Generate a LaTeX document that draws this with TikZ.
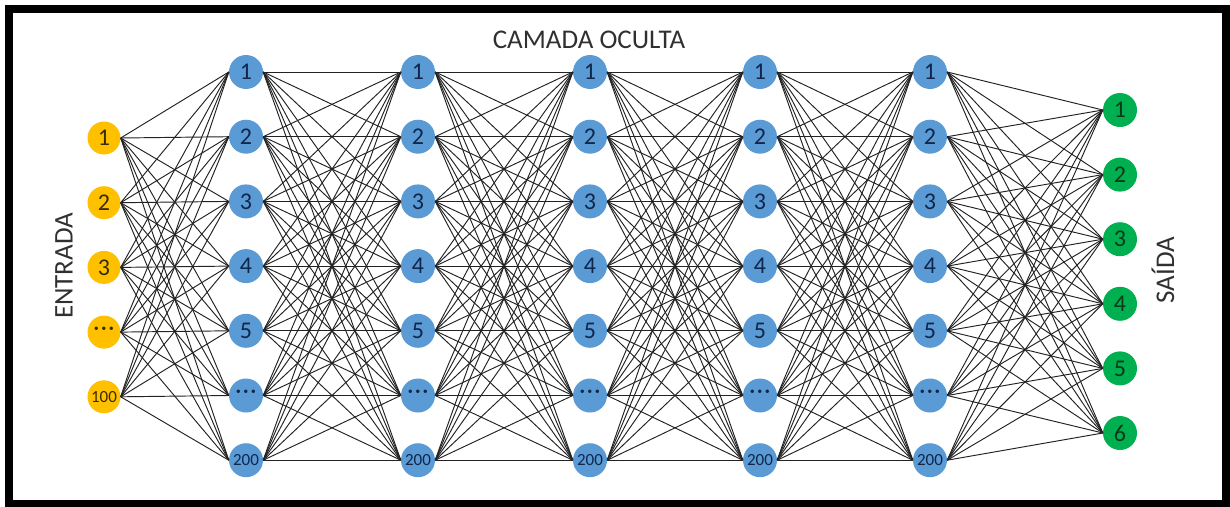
\documentclass[tikz,border=0pt]{standalone}
\usepackage{fontspec}
\setmainfont{Carlito}
\definecolor{inyellow}{HTML}{FFC000}
\definecolor{hidblue}{HTML}{5B9BD5}
\definecolor{outgreen}{HTML}{00B050}
\definecolor{intext}{HTML}{3A2C00}
\definecolor{hidtext}{HTML}{10264A}
\definecolor{outtext}{HTML}{0B3A18}
\definecolor{lblcol}{HTML}{303030}
\definecolor{edgecol}{HTML}{222222}
\newcommand\smalltxt[1]{{\fontsize{17}{17}\selectfont #1}}
\newcommand\neurdots{{\fontsize{24}{24}\selectfont\raisebox{0.08em}{·\kern0.06em·\kern0.06em·}}}
\begin{document}
\begin{tikzpicture}[x=1pt,y=-1pt,
  neuron/.style={circle, minimum size=34pt, inner sep=0pt, font=\fontsize{24}{24}\selectfont},
  inp/.style={neuron, fill=inyellow, text=intext, minimum size=33pt},
  hid/.style={neuron, fill=hidblue, text=hidtext},
  outp/.style={neuron, fill=outgreen, text=outtext},
  conn/.style={draw=edgecol, line width=0.95pt},
  lbl/.style={font=\fontsize{27}{27}\selectfont, text=lblcol}]
\useasboundingbox (0,0) rectangle (1230,506);
\draw[line width=8pt] (9,9) rectangle (1226,504);
% input layer
\foreach \t [count=\k] in {1,2,3,\neurdots,\smalltxt{100}}
  \node[inp] (i-\k) at (104,{138+64.7*(\k-1)}) {\t};
% hidden layers
\foreach \x [count=\l] in {246,418,590,760,930}
  \foreach \t [count=\k] in {1,2,3,4,5,\neurdots,\smalltxt{200}}
    \node[hid] (h-\l-\k) at (\x,{72+64.7*(\k-1)}) {\t};
% output layer
\foreach \k in {1,...,6}
  \node[outp] (o-\k) at (1120,{110+64.6*(\k-1)}) {\k};
% connections
\foreach \a in {1,...,5}
  \foreach \b in {1,...,7}
    \draw[conn] (i-\a.east) -- (h-1-\b.west);
\foreach \l in {1,...,4}{
  \pgfmathtruncatemacro\m{\l+1}
  \foreach \a in {1,...,7}
    \foreach \b in {1,...,7}
      \draw[conn] (h-\l-\a.east) -- (h-\m-\b.west);
}
\foreach \a in {1,...,7}
  \foreach \b in {1,...,6}
    \draw[conn] (h-5-\a.east) -- (o-\b.west);
% labels
\node[lbl, rotate=90] (entrada) at (64,266) {ENTRADA};
\node[lbl] (oculta) at (589,40) {CAMADA OCULTA};
\node[lbl, rotate=90] (saida) at (1163,270) {SAÍDA};
\end{tikzpicture}
\end{document}
